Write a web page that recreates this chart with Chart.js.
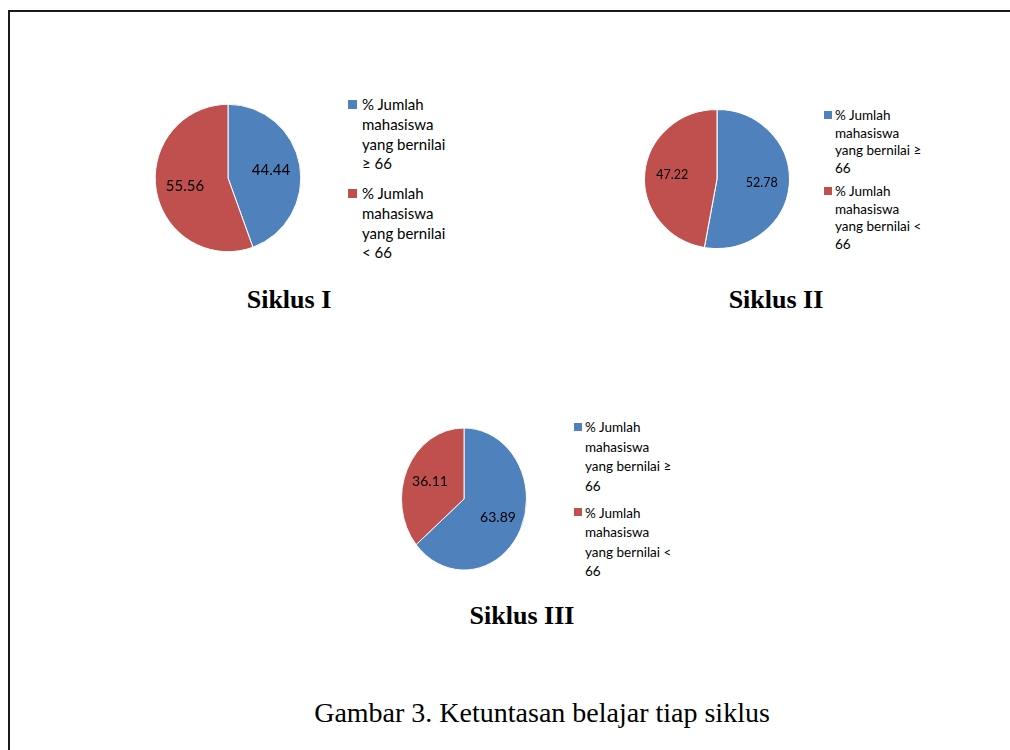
<!DOCTYPE html>
<html><head><meta charset="utf-8">
<script src="https://cdn.jsdelivr.net/npm/chart.js@4.4.1/dist/chart.umd.min.js"></script>
<style>
html,body{margin:0;padding:0;background:#fff;}
#page{position:relative;width:1010px;height:750px;overflow:hidden;background:#fff;}
#frame{position:absolute;left:8px;top:10px;width:1100px;height:800px;border-top:2px solid #1a1a1a;border-left:2px solid #1a1a1a;}
canvas{position:absolute;}
.leg{position:absolute;font-family:Lato,"Open Sans",sans-serif;color:#000;}
.leg .item{position:absolute;left:0;}
.leg .sw{position:absolute;}
.leg .txt{position:absolute;white-space:normal;}
.ttl{position:absolute;font-family:"Liberation Serif","Times New Roman",serif;font-weight:bold;font-size:26px;line-height:26px;text-align:center;width:300px;white-space:nowrap;color:#000;}
.cap{position:absolute;font-family:"Liberation Serif","Times New Roman",serif;font-size:28px;line-height:28px;text-align:center;width:700px;white-space:nowrap;color:#000;}
</style></head>
<body><div id="page"><div id="frame"></div></div>
<script>
// ---- data ----
const categories = ['% Jumlah mahasiswa yang bernilai \u2265 66', '% Jumlah mahasiswa yang bernilai < 66'];
const cycleNames = ['Siklus I', 'Siklus II', 'Siklus III'];
const siklusI = [44.44, 55.56];
const siklusII = [52.78, 47.22];
const siklusIII = [63.89, 36.11];
const sliceColors = ['#4F81BD', '#C0504D'];
const captionText = 'Gambar 3. Ketuntasan belajar tiap siklus';

// ---- layout ----
const layouts = [
  {values: siklusI, cx: 228, cy: 178, rx: 72.8, ry: 73.7, lf: 0.6, labelFont: 15,
   legend: {x: 348, textX: 362, width: 92, font: 15, lh: 19.7, tops: [95.2, 184.2], sw: 9},
   title: {cx: 289, base: 308.5}},
  {values: siklusII, cx: 716.5, cy: 178.5, rx: 72.5, ry: 69.5, lf: 0.62, labelFont: 12.5,
   legend: {x: 824, textX: 835, width: 94, font: 13.5, lh: 17.5, tops: [107, 183], sw: 8},
   title: {cx: 776, base: 308.5}},
  {values: siklusIII, cx: 464, cy: 499, rx: 62.5, ry: 71, lf: 0.6, labelFont: 14,
   legend: {x: 574, textX: 585, width: 94, font: 13.5, lh: 19.5, tops: [418, 503.5], sw: 8},
   title: {cx: 522, base: 624.5}}
];

const page = document.getElementById('page');

const ellipsePlugin = {
  id: 'ellipse',
  beforeDatasetsDraw(chart, args, opts) {
    const ctx = chart.ctx, a = chart.chartArea;
    const cx = (a.left + a.right) / 2, cy = (a.top + a.bottom) / 2;
    ctx.save();
    ctx.translate(cx, cy); ctx.scale(opts.sx, 1); ctx.translate(-cx, -cy);
  },
  afterDatasetsDraw(chart, args, opts) {
    const ctx = chart.ctx;
    ctx.restore();
    const meta = chart.getDatasetMeta(0);
    const vals = chart.data.datasets[0].data;
    ctx.save();
    ctx.fillStyle = '#000';
    ctx.font = opts.font + 'px Lato, "Open Sans", sans-serif';
    ctx.textAlign = 'center';
    ctx.textBaseline = 'middle';
    meta.data.forEach((arc, i) => {
      const p = arc.getProps(['x', 'y', 'startAngle', 'endAngle', 'outerRadius'], true);
      const mid = (p.startAngle + p.endAngle) / 2;
      const r = p.outerRadius * opts.lf;
      ctx.fillText(vals[i].toFixed(2), p.x + Math.cos(mid) * r * opts.sx, p.y + Math.sin(mid) * r);
    });
    ctx.restore();
  }
};

const S = 200;
layouts.forEach((L, k) => {
  const cv = document.createElement('canvas');
  cv.width = S; cv.height = S;
  cv.style.left = (L.cx - S / 2) + 'px';
  cv.style.top = (L.cy - S / 2) + 'px';
  page.appendChild(cv);
  const pad = (S - 1 - 2 * L.ry) / 2;
  new Chart(cv, {
    type: 'pie',
    data: {labels: categories, datasets: [{data: L.values, backgroundColor: sliceColors, borderColor: '#ffffff', borderWidth: 1}]},
    options: {
      responsive: false, animation: false, events: [],
      layout: {padding: pad},
      plugins: {legend: {display: false}, tooltip: {enabled: false},
        ellipse: {sx: L.rx / L.ry, lf: L.lf, font: L.labelFont}}
    },
    plugins: [ellipsePlugin]
  });

  // legend
  const lg = L.legend;
  categories.forEach((c, i) => {
    const sw = document.createElement('div');
    sw.style.cssText = `position:absolute;left:${lg.x}px;top:${lg.tops[i] + lg.lh / 2 - lg.sw / 2 - 1}px;width:${lg.sw}px;height:${lg.sw}px;background:${sliceColors[i]};`;
    page.appendChild(sw);
    const tx = document.createElement('div');
    tx.className = 'leg';
    tx.style.cssText += `left:${lg.textX}px;top:${lg.tops[i]}px;width:${lg.width}px;font-size:${lg.font}px;line-height:${lg.lh}px;`;
    tx.textContent = c;
    page.appendChild(tx);
  });

  // title
  const t = document.createElement('div');
  t.className = 'ttl';
  t.textContent = cycleNames[k];
  t.style.left = (L.title.cx - 150) + 'px';
  t.style.top = (L.title.base - 26 * 0.8375) + 'px';
  page.appendChild(t);
});

const cap = document.createElement('div');
cap.className = 'cap';
cap.textContent = captionText;
cap.style.left = (542 - 350) + 'px';
cap.style.top = (722 - 28 * 0.8375) + 'px';
page.appendChild(cap);
</script>
</body></html>
